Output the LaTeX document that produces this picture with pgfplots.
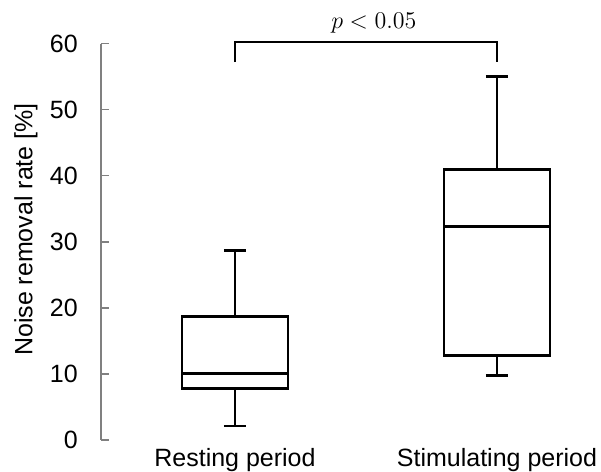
\documentclass[border=0pt]{standalone}
\usepackage{fontspec}
\setmainfont{Liberation Sans}
\usepackage{pgfplots}
\pgfplotsset{compat=1.18}
\begin{document}
\begin{tikzpicture}
\begin{axis}[
 anchor=origin,
 x=131pt, y=3.304pt,
 xmin=-0.511, xmax=1.397, ymin=0, ymax=60,
 clip=false,
 axis y line*=left, axis x line*=bottom,
 x axis line style={draw=none},
 y axis line style={draw=gray, line width=0.75pt},
 xtick={0,1}, xticklabels={Resting period, Stimulating period},
 major x tick style={draw=none},
 ytick={0,10,...,60},
 major y tick style={draw=gray, line width=0.75pt},
 tick align=inside, major tick length=4pt,
 font=\fontsize{12.5}{15}\selectfont,
 /pgf/number format/assume math mode=true,
 yticklabel style={anchor=east, inner sep=0pt, xshift=-11.5pt},
 xticklabel style={anchor=base, inner sep=0pt, yshift=-13pt},
 ylabel={Noise removal rate [\%]},
 every axis y label/.style={at={(axis description cs:-0.1504,0.531)}, rotate=90, anchor=center},
 bx/.style={black, line width=1.3pt, mark=none, line join=miter},
]
% Resting period: lower whisker 2.1, Q1 7.8, median 10.1, Q3 18.65, upper whisker 28.7
\addplot[bx] coordinates {(-0.2025,7.8) (0.2025,7.8) (0.2025,18.65) (-0.2025,18.65)} --cycle;
\addplot[bx] coordinates {(-0.2025,10.1) (0.2025,10.1)};
\addplot[bx] coordinates {(0,18.65) (0,28.7)};
\addplot[bx] coordinates {(-0.042,28.7) (0.042,28.7)};
\addplot[bx] coordinates {(0,7.8) (0,2.1)};
\addplot[bx] coordinates {(-0.042,2.1) (0.042,2.1)};
% Stimulating period: lower whisker 9.73, Q1 12.75, median 32.3, Q3 40.95, upper whisker 55.0
\addplot[bx] coordinates {(0.7975,12.75) (1.2025,12.75) (1.2025,40.95) (0.7975,40.95)} --cycle;
\addplot[bx] coordinates {(0.7975,32.3) (1.2025,32.3)};
\addplot[bx] coordinates {(1,40.95) (1,55.0)};
\addplot[bx] coordinates {(0.958,55.0) (1.042,55.0)};
\addplot[bx] coordinates {(1,12.75) (1,9.73)};
\addplot[bx] coordinates {(0.958,9.73) (1.042,9.73)};
% significance bracket
\addplot[black, line width=1pt, mark=none] coordinates {(0,57.2) (0,60.2) (1,60.2) (1,57.2)};
\node[anchor=base] at (axis cs:0.53,62.2) {$p < 0.05$};
\end{axis}
\pgfresetboundingbox
\useasboundingbox (-117.5pt,-16pt) rectangle (183pt,220pt);
\end{tikzpicture}
\end{document}
